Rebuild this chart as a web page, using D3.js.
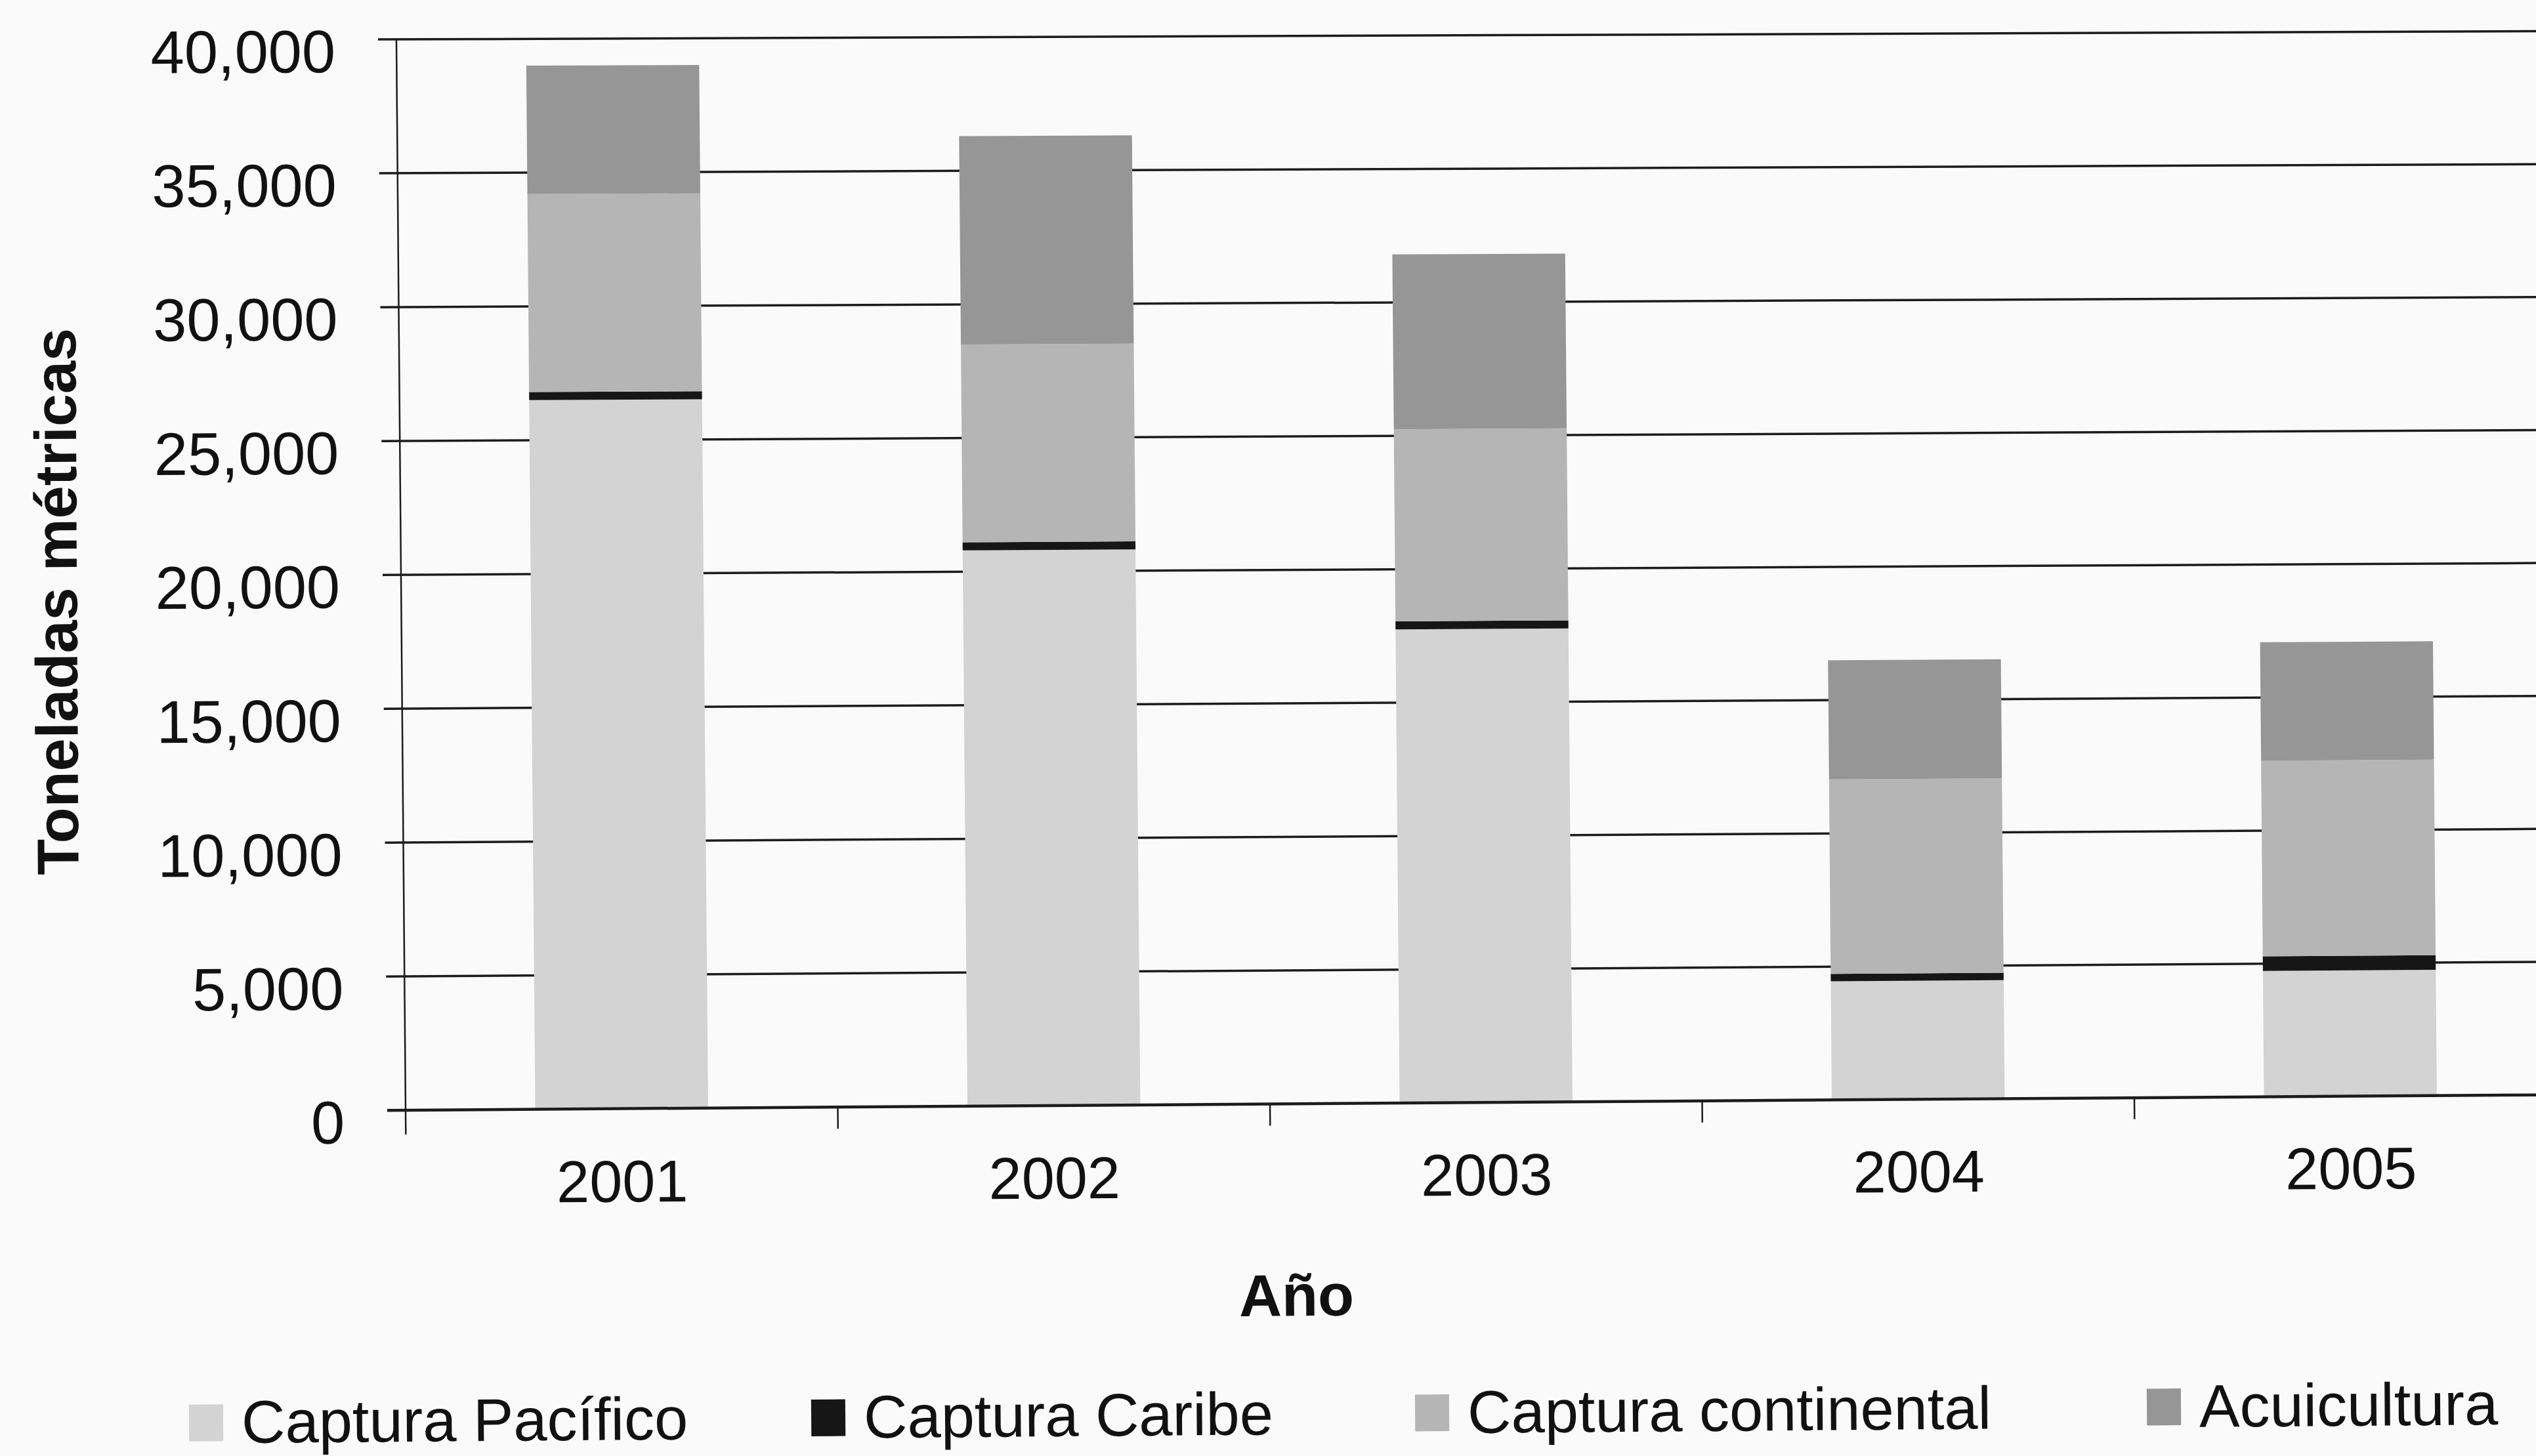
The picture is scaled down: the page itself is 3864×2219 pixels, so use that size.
<!DOCTYPE html>
<html>
<head>
<meta charset="utf-8">
<script src="https://cdn.jsdelivr.net/npm/d3@7"></script>
<style>
  html, body { margin: 0; padding: 0; background: #fafafa; }
  svg { display: block; font-family: "Liberation Sans", Arial, sans-serif; }
  .axis text { fill: #111; }
</style>
</head>
<body>
<script>
// data
var years = ['2001', '2002', '2003', '2004', '2005'];
var pacifico    = [26500, 20800, 17750, 4450, 4730];
var caribe      = [300, 300, 300, 280, 550];
var continental = [7400, 7400, 7200, 7300, 7350];
var acuicultura = [4800, 7800, 6550, 4470, 4450];

var seriesNames = ['Captura Pacífico', 'Captura Caribe', 'Captura continental', 'Acuicultura'];
var keys = ['pacifico', 'caribe', 'continental', 'acuicultura'];
var yTicks = [0, 5000, 10000, 15000, 20000, 25000, 30000, 35000, 40000];

var W = 3864, H = 2219;
var x0 = 618, y0 = 1692;      // plot origin (bottom-left)
var yTop = 60;
var step = 658.5;

// the scanned page is tilted and a bit warped: lines near the bottom
// slope more than the ones at the top. warp() mimics that.
var kTop = 0.0038, kBot = 0.0072, lean = 0.0086;
function slope(y){ return kBot + (kBot - kTop) * (y - y0) / (y0 - yTop); }
function warp(x, y){ return [x + lean * (y - y0), y - slope(y) * (x - x0)]; }
function angle(y){ return -Math.atan(slope(y)) * 180 / Math.PI; }
function place(x, y, extra){
	var p = warp(x, y);
	return 'translate(' + p[0] + ',' + p[1] + ') rotate(' + (angle(y) + (extra || 0)) + ')';
}

var color = d3.scaleOrdinal()
	.domain(keys)
	.range(['#d3d3d3', '#161616', '#b5b5b5', '#969696']);

var rows = years.map(function(yr, i){
	return {year: yr, pacifico: pacifico[i], caribe: caribe[i],
		continental: continental[i], acuicultura: acuicultura[i]};
});

var svg = d3.select('body').append('svg')
	.attr('width', W)
	.attr('height', H);

svg.append('rect').attr('width', W).attr('height', H).attr('fill', '#fafafa');

var g = svg.append('g');

var xScale = d3.scaleBand()
	.domain(years)
	.range([x0, x0 + step * years.length])
	.paddingInner(0.6)
	.paddingOuter(0.3);

var yScale = d3.scaleLinear()
	.domain([0, 40000])
	.range([y0, yTop]);

var xRight = x0 + step * years.length + 40;

// gridlines (with the outside tick marks on the left)
g.append('g').selectAll('line')
	.data(yTicks.slice(1))
	.enter().append('line')
	.attr('x1', function(d){ return warp(x0 - 28, yScale(d))[0]; })
	.attr('y1', function(d){ return warp(x0 - 28, yScale(d))[1]; })
	.attr('x2', function(d){ return warp(xRight, yScale(d))[0]; })
	.attr('y2', function(d){ return warp(xRight, yScale(d))[1]; })
	.attr('stroke', '#1c1c1c')
	.attr('stroke-width', 3.5);

// stacked bars
var stack = d3.stack().keys(keys);
var layers = stack(rows);

g.append('g').selectAll('g')
	.data(layers)
	.enter().append('g')
	.attr('fill', function(d){ return color(d.key); })
	.selectAll('path')
	.data(function(d){ return d; })
	.enter().append('path')
	.attr('d', function(d){
		var xl = xScale(d.data.year), xr = xl + xScale.bandwidth();
		var yt = yScale(d[1]), yb = yScale(d[0]);
		return 'M' + warp(xl, yt) + 'L' + warp(xr, yt) + 'L' + warp(xr, yb) + 'L' + warp(xl, yb) + 'Z';
	});

// y axis labels
var yAxis = d3.axisLeft(yScale)
	.tickValues(yTicks)
	.tickSize(0)
	.tickPadding(0)
	.tickFormat(d3.format(','));

var ya = g.append('g')
	.attr('class', 'axis y')
	.call(yAxis);
ya.select('.domain').remove();
ya.selectAll('.tick line').remove();
ya.selectAll('.tick')
	.attr('transform', function(d){ return place(x0, yScale(d)); });
ya.selectAll('.tick text')
	.attr('font-size', 92)
	.attr('dy', 50)
	.attr('x', -93);

var axTop = warp(x0, yTop), axBot = warp(x0, y0 + 37);
g.append('line')
	.attr('x1', axTop[0]).attr('y1', axTop[1])
	.attr('x2', axBot[0]).attr('y2', axBot[1])
	.attr('stroke', '#1c1c1c')
	.attr('stroke-width', 2.5);

// x axis
var baseL = warp(x0 - 28, y0), baseR = warp(xRight, y0);
g.append('line')
	.attr('x1', baseL[0]).attr('y1', baseL[1])
	.attr('x2', baseR[0]).attr('y2', baseR[1])
	.attr('stroke', '#1c1c1c')
	.attr('stroke-width', 4.5);

var xAxis = d3.axisBottom(xScale)
	.tickSize(0)
	.tickPadding(0);

var xa = g.append('g')
	.attr('class', 'axis x')
	.call(xAxis);
xa.select('.domain').remove();
xa.selectAll('.tick')
	.attr('transform', function(d){ return place(xScale(d) + xScale.bandwidth() / 2, y0 + 142); });
xa.selectAll('.tick text')
	.attr('font-size', 90)
	.attr('dy', 0)
	.attr('y', 0);

// category boundary ticks
g.append('g').selectAll('line')
	.data(years.slice(1))
	.enter().append('line')
	.each(function(d){
		var bx = xScale(d) - xScale.step() * xScale.paddingInner() / 2;
		var a = warp(bx, y0), b = warp(bx, y0 + 33);
		d3.select(this)
			.attr('x1', a[0]).attr('y1', a[1])
			.attr('x2', b[0]).attr('y2', b[1]);
	})
	.attr('stroke', '#1c1c1c')
	.attr('stroke-width', 2.5);

// axis titles
g.append('text')
	.attr('transform', place(1973, 2016))
	.attr('text-anchor', 'middle')
	.attr('font-size', 90)
	.attr('font-weight', 'bold')
	.attr('fill', '#111')
	.text('Año');

g.append('text')
	.attr('transform', place(124, 914, -90))
	.attr('text-anchor', 'middle')
	.attr('font-size', 90)
	.attr('font-weight', 'bold')
	.attr('fill', '#111')
	.text('Toneladas métricas');

// legend
var legendX = [284, 1232, 2152, 3267];
var legend = g.append('g').selectAll('g')
	.data(keys)
	.enter().append('g')
	.attr('transform', function(d, i){ return place(legendX[i], 2138); });

legend.append('rect')
	.attr('x', 0)
	.attr('y', 0)
	.attr('width', 52)
	.attr('height', 56)
	.attr('fill', function(d){ return color(d); });

legend.append('text')
	.attr('x', 80)
	.attr('y', 59)
	.attr('font-size', 92)
	.attr('fill', '#111')
	.text(function(d, i){ return seriesNames[i]; });
</script>
</body>
</html>
